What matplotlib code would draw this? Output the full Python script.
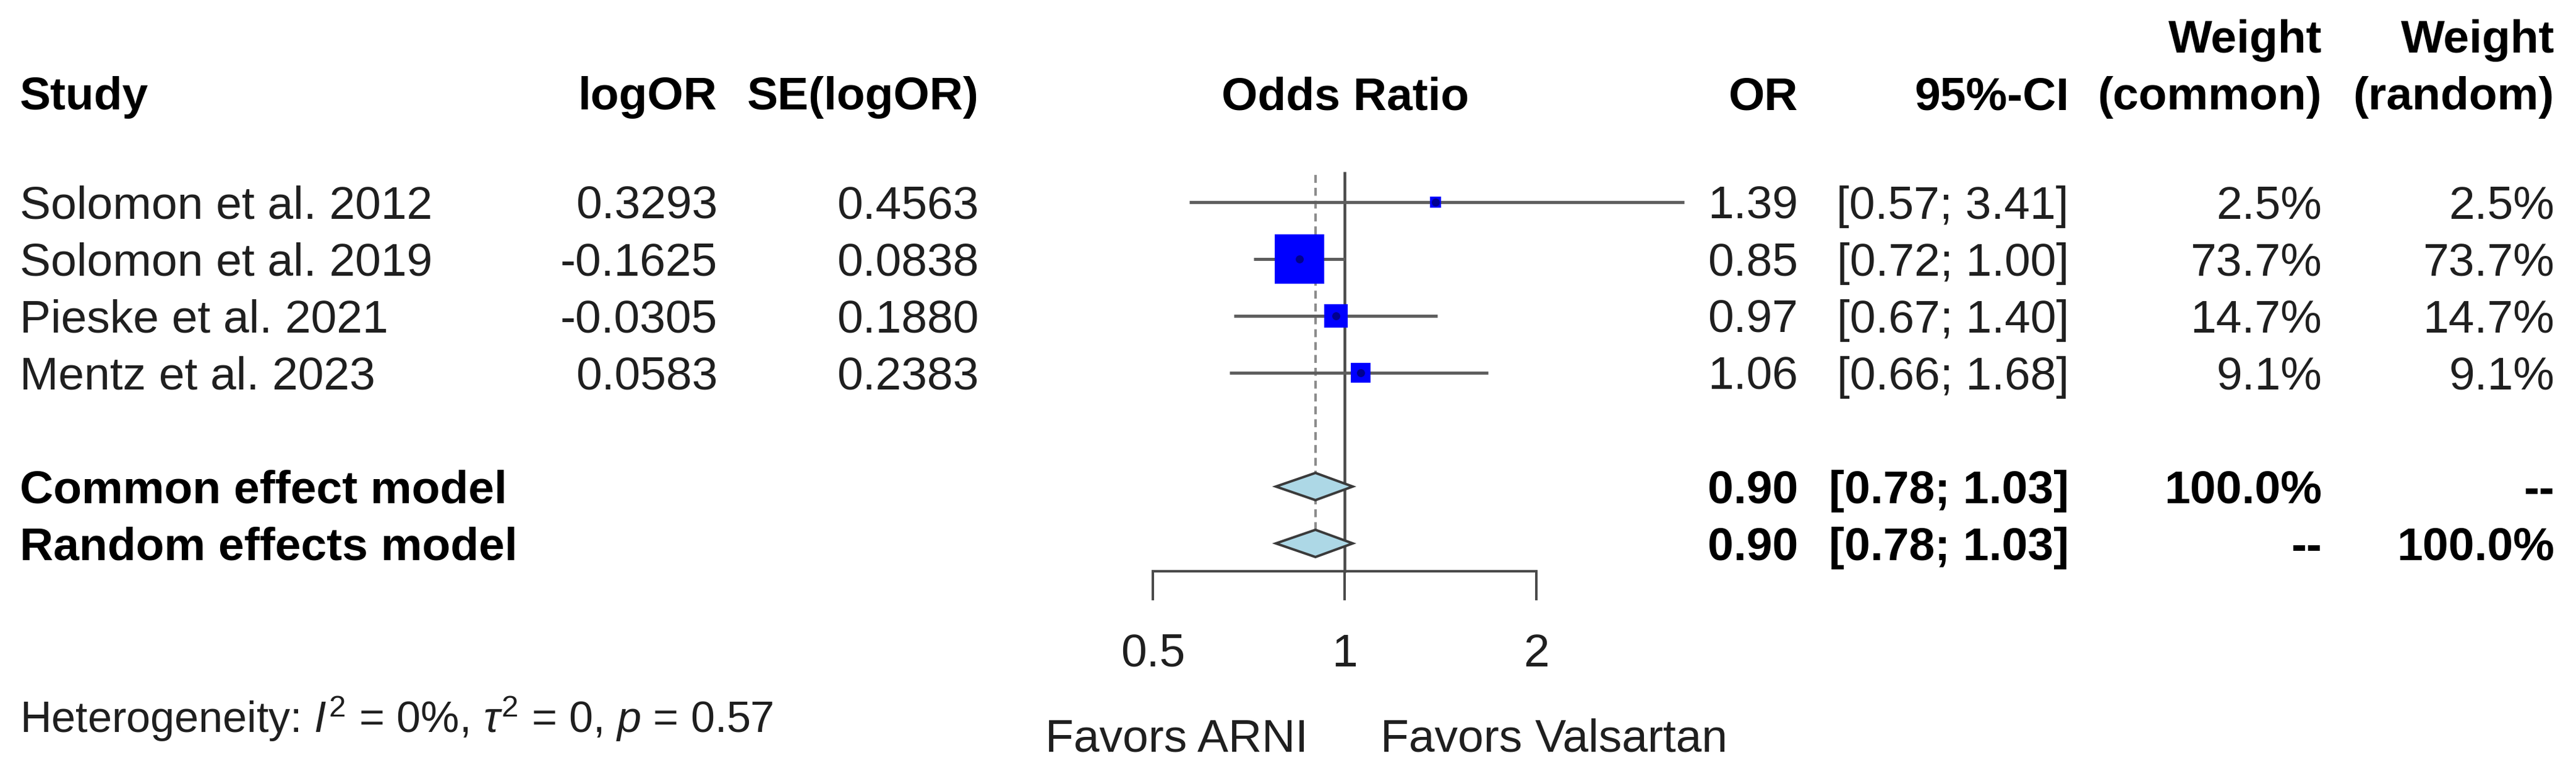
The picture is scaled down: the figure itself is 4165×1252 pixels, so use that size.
import numpy as np
import matplotlib
matplotlib.use("Agg")
import matplotlib.pyplot as plt
from matplotlib.patches import Polygon

plt.rcParams['font.family'] = ['Liberation Sans', 'DejaVu Sans']
plt.rcParams['mathtext.fontset'] = 'custom'
plt.rcParams['mathtext.rm'] = 'Liberation Sans'
plt.rcParams['mathtext.it'] = 'Liberation Sans:italic'
plt.rcParams['mathtext.bf'] = 'Liberation Sans:bold'

# data
studies = ["Solomon et al. 2012", "Solomon et al. 2019", "Pieske et al. 2021", "Mentz et al. 2023"]
log_or = [0.3293, -0.1625, -0.0305, 0.0583]
se_log_or = [0.4563, 0.0838, 0.1880, 0.2383]
odds = [1.39, 0.85, 0.97, 1.06]
ci_lo = [0.57, 0.72, 0.67, 0.66]
ci_hi = [3.41, 1.00, 1.40, 1.68]
w_common = [2.5, 73.7, 14.7, 9.1]
w_random = [2.5, 73.7, 14.7, 9.1]

models = ["Common effect model", "Random effects model"]
pooled_or = [0.90, 0.90]
pooled_lo = [0.78, 0.78]
pooled_hi = [1.03, 1.03]
pooled_wc = ["100.0%", "--"]
pooled_wr = ["--", "100.0%"]

ticks = [0.5, 1, 2]
tick_labels = ["0.5", "1", "2"]

W, H = 4165, 1252
PX = 72 / 100  # points per pixel
FS = 54

fig = plt.figure(figsize=(W / 100, H / 100), dpi=100)
tx = fig.add_axes([0, 0, 1, 1])
tx.set_xlim(0, W)
tx.set_ylim(H, 0)
tx.axis('off')

# layout (pixels)
row_y = [327, 419, 511, 603]
pool_y = [787, 879]
hdr_y = 150
axis_y = 924
top_y = 280
cap = 27
col_study, col_lor, col_se = 32, 1160, 1583
col_or, col_ci, col_wc, col_wr = 2907, 3345, 3754, 4130
x_null = 2175

def txt(x, y, s, ha='left', bold=False, size=FS, color='#1f1f1f'):
    tx.text(x, y + cap, s, ha=ha, va='baseline', fontsize=size,
            fontweight='bold' if bold else 'normal', color=color)

# headers
txt(col_study, hdr_y, "Study", bold=True, color='black')
txt(col_lor, hdr_y, "logOR", ha='right', bold=True, color='black')
txt(col_se, hdr_y, "SE(logOR)", ha='right', bold=True, color='black')
txt(x_null, hdr_y, "Odds Ratio", ha='center', bold=True, color='black')
txt(col_or, hdr_y, "OR", ha='right', bold=True, color='black')
txt(col_ci, hdr_y, "95%-CI", ha='right', bold=True, color='black')
txt(col_wc, hdr_y - 92, "Weight", ha='right', bold=True, color='black')
txt(col_wc, hdr_y, "(common)", ha='right', bold=True, color='black')
txt(col_wr, hdr_y - 92, "Weight", ha='right', bold=True, color='black')
txt(col_wr, hdr_y, "(random)", ha='right', bold=True, color='black')

for i, name in enumerate(studies):
    y = row_y[i]
    txt(col_study, y, name)
    txt(col_lor, y, f"{log_or[i]:.4f}", ha='right')
    txt(col_se, y, f"{se_log_or[i]:.4f}", ha='right')
    txt(col_or, y, f"{odds[i]:.2f}", ha='right')
    txt(col_ci, y, f"[{ci_lo[i]:.2f}; {ci_hi[i]:.2f}]", ha='right')
    txt(col_wc, y, f"{w_common[i]:.1f}%", ha='right')
    txt(col_wr, y, f"{w_random[i]:.1f}%", ha='right')

for i, name in enumerate(models):
    y = pool_y[i]
    txt(col_study, y, name, bold=True, color='black')
    txt(col_or, y, f"{pooled_or[i]:.2f}", ha='right', bold=True, color='black')
    txt(col_ci, y, f"[{pooled_lo[i]:.2f}; {pooled_hi[i]:.2f}]", ha='right', bold=True, color='black')
    txt(col_wc, y, pooled_wc[i], ha='right', bold=True, color='black')
    txt(col_wr, y, pooled_wr[i], ha='right', bold=True, color='black')

txt(col_study, 1158, r"Heterogeneity: $I^2$ = 0%, $\tau^2$ = 0, $p$ = 0.57", size=50.5)
txt(2115, 1188, "Favors ARNI", ha='right')
txt(2232, 1188, "Favors Valsartan")

# forest panel
fx = fig.add_axes([1864 / W, 1 - axis_y / H, 620 / W, (axis_y - 250) / H])
fx.set_xscale('log', base=2)
fx.set_xlim(0.5, 2)
fx.set_ylim(axis_y, 250)
fx.patch.set_alpha(0)
for s in ['top', 'left', 'right']:
    fx.spines[s].set_visible(False)
fx.spines['bottom'].set_linewidth(4 * PX)
fx.spines['bottom'].set_color('#4a4a4a')
fx.set_yticks([])
fx.set_xticks(ticks)
fx.set_xticklabels(tick_labels)
fx.minorticks_off()
fx.tick_params(axis='x', direction='out', length=47 * PX, width=4 * PX,
               color='#4a4a4a', pad=38, labelsize=FS, labelcolor='#1f1f1f')

fx.plot([1, 1], [top_y, axis_y], color='#4a4a4a', lw=4.5 * PX, clip_on=False, zorder=2)
fx.plot([pooled_or[0]] * 2, [top_y + 3, pool_y[1] - 22], color='#8c8c8c', lw=4 * PX,
        ls=(0, (3.2, 2)), zorder=1)

for i in range(len(studies)):
    y = row_y[i]
    fx.plot([ci_lo[i], ci_hi[i]], [y, y], color='#5e5e5e', lw=5 * PX, clip_on=False,
            solid_capstyle='butt', zorder=3)
    side = 8.74 * np.sqrt(w_common[i]) + 5
    fx.scatter([odds[i]], [y], s=(side * PX) ** 2, marker='s', color='#0000ff',
               linewidths=0, zorder=4, clip_on=False)
    fx.scatter([odds[i]], [y], s=(13 * PX) ** 2, marker='o', color='#00008f',
               linewidths=0, zorder=5, clip_on=False)

for i in range(len(models)):
    y = pool_y[i]
    d = Polygon([(pooled_lo[i], y), (pooled_or[i], y - 22), (pooled_hi[i], y),
                 (pooled_or[i], y + 22)], closed=True, facecolor='#add8e6',
                edgecolor='#3a3a3a', lw=4 * PX, zorder=4)
    fx.add_patch(d)

fig.savefig('out.png', dpi=100)
